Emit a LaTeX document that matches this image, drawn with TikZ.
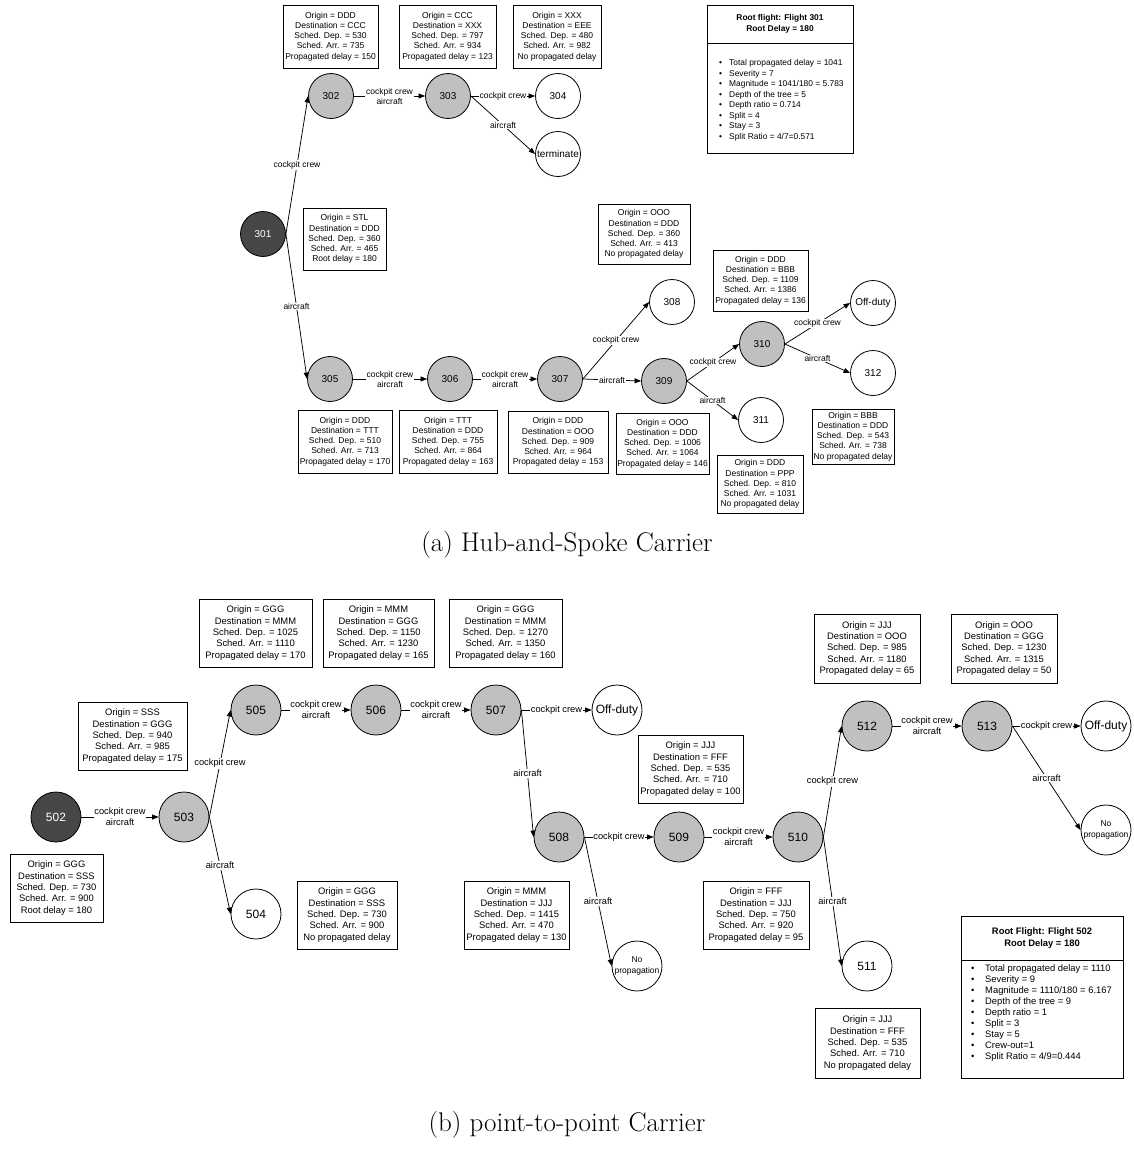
\documentclass[tikz,border=0pt]{standalone}
\usepackage{fontspec}
\newfontfamily\arial{Liberation Sans}
\usetikzlibrary{arrows.meta}
\definecolor{rootfill}{HTML}{474747}
\definecolor{delayfill}{HTML}{C0C0C0}
\newcommand{\bul}[1]{\makebox[#1][l]{\textbullet}}
\begin{document}
\begin{tikzpicture}[x=1pt,y=-1pt,
  flt/.style={circle,draw,line width=0.8pt,inner sep=0pt},
  fltA/.style={flt,minimum size=45pt,font=\arial\fontsize{10pt}{12pt}\selectfont},
  fltB/.style={flt,minimum size=50pt,font=\arial\fontsize{12pt}{14pt}\selectfont},
  rootfl/.style={fill=rootfill,text=white},
  delayfl/.style={fill=delayfill},
  endfl/.style={fill=white},
  info/.style={draw,line width=0.8pt,fill=white,align=center,inner sep=0pt},
  infoA/.style={info,font=\arial\fontsize{8.5pt}{10.2pt}\selectfont},
  infoB/.style={info,font=\arial\fontsize{9.4pt}{11.4pt}\selectfont},
  sumtext/.style={anchor=west,align=left,inner sep=0pt},
  link/.style={line width=0.75pt,-{Triangle[length=6.5pt,width=5pt]}},
  lbl/.style={fill=white,inner sep=0.8pt,align=center},
  lblA/.style={lbl,font=\arial\fontsize{8.5pt}{10pt}\selectfont},
  lblB/.style={lbl,font=\arial\fontsize{9.3pt}{10.8pt}\selectfont},
  nopr/.style={fltB,endfl,align=center,font=\arial\fontsize{8.5pt}{10.5pt}\selectfont},
  capt/.style={font=\fontsize{27pt}{32pt}\selectfont}
]
\useasboundingbox (0,0) rectangle (1133,1151);

% ---------------- (a) hub-and-spoke tree ----------------
\node[fltA,rootfl]  (n301) at (263,234) {301};
\node[fltA,delayfl] (n302) at (331,96)  {302};
\node[fltA,delayfl] (n303) at (448,96)  {303};
\node[fltA,endfl]   (n304) at (558,96)  {304};
\node[fltA,endfl]   (nterm) at (558,154) {terminate};
\node[fltA,delayfl] (n305) at (330,379) {305};
\node[fltA,delayfl] (n306) at (450,379) {306};
\node[fltA,delayfl] (n307) at (560,379) {307};
\node[fltA,endfl]   (n308) at (672,302) {308};
\node[fltA,delayfl] (n309) at (664,381) {309};
\node[fltA,delayfl] (n310) at (762,344) {310};
\node[fltA,endfl]   (n311) at (761,420) {311};
\node[fltA,endfl]   (offA) at (873,303) {Off-duty};
\node[fltA,endfl]   (n312) at (873,373) {312};

\node[infoA,minimum width=95pt,minimum height=63pt] (i302) at (330.5,36.5)
  {Origin = DDD\\Destination = CCC\\Sched. Dep. = 530\\Sched. Arr. = 735\\Propagated delay = 150};
\node[infoA,minimum width=97pt,minimum height=63pt] (i303) at (447.5,36.5)
  {Origin = CCC\\Destination = XXX\\Sched. Dep. = 797\\Sched. Arr. = 934\\Propagated delay = 123};
\node[infoA,minimum width=88pt,minimum height=63pt] (i304) at (557,36.5)
  {Origin = XXX\\Destination = EEE\\Sched. Dep. = 480\\Sched. Arr. = 982\\No propagated delay};
\node[infoA,minimum width=83pt,minimum height=62pt] (i301) at (344.5,239)
  {Origin = STL\\Destination = DDD\\Sched. Dep. = 360\\Sched. Arr. = 465\\Root delay = 180};
\node[infoA,minimum width=94pt,minimum height=63pt] (i305) at (345,441.5)
  {Origin = DDD\\Destination = TTT\\Sched. Dep. = 510\\Sched. Arr. = 713\\Propagated delay = 170};
\node[infoA,minimum width=98pt,minimum height=63pt] (i306) at (448,441.5)
  {Origin = TTT\\Destination = DDD\\Sched. Dep. = 755\\Sched. Arr. = 864\\Propagated delay = 163};
\node[infoA,minimum width=100pt,minimum height=62pt] (i307) at (558,442)
  {Origin = DDD\\Destination = OOO\\Sched. Dep. = 909\\Sched. Arr. = 964\\Propagated delay = 153};
\node[infoA,minimum width=92pt,minimum height=60pt] (i308) at (644,234)
  {Origin = OOO\\Destination = DDD\\Sched. Dep. = 360\\Sched. Arr. = 413\\No propagated delay};
\node[infoA,minimum width=95pt,minimum height=61pt] (i310) at (760.5,280.5)
  {Origin = DDD\\Destination = BBB\\Sched. Dep. = 1109\\Sched. Arr. = 1386\\Propagated delay = 136};
\node[infoA,minimum width=93pt,minimum height=61pt] (i309) at (662.5,443.5)
  {Origin = OOO\\Destination = DDD\\Sched. Dep. = 1006\\Sched. Arr. = 1064\\Propagated delay = 146};
\node[infoA,minimum width=86pt,minimum height=58pt] (i311) at (760,484)
  {Origin = DDD\\Destination = PPP\\Sched. Dep. = 810\\Sched. Arr. = 1031\\No propagated delay};
\node[infoA,minimum width=82pt,minimum height=55pt] (i312) at (853,436.5)
  {Origin = BBB\\Destination = DDD\\Sched. Dep. = 543\\Sched. Arr. = 738\\No propagated delay};

% summary of tree 301
\node[info,minimum width=146pt,minimum height=38pt,font=\arial\bfseries\fontsize{8.4pt}{10.5pt}\selectfont]
  (sumAhead) at (780,24) {Root flight: Flight 301\\Root Delay = 180};
\node[info,anchor=north,minimum width=146pt,minimum height=110pt] (sumAbody) at (sumAhead.south) {};
\node[sumtext,font=\arial\fontsize{8.4pt}{10.5pt}\selectfont] (sumAlist) at (719,100.5) {%
  \bul{10pt}Total propagated delay = 1041\\
  \bul{10pt}Severity = 7\\
  \bul{10pt}Magnitude = 1041/180 = 5.783\\
  \bul{10pt}Depth of the tree = 5\\
  \bul{10pt}Depth ratio = 0.714\\
  \bul{10pt}Split = 4\\
  \bul{10pt}Stay = 3\\
  \bul{10pt}Split Ratio = 4/7=0.571};

\draw[link] (n301.east) -- node[lblA] {cockpit crew} (n302.west);
\draw[link] (n301.east) -- node[lblA] {aircraft} (n305.west);
\draw[link] (n302.east) -- node[lblA] {cockpit crew\\aircraft} (n303.west);
\draw[link] (n303.east) -- node[lblA] {cockpit crew} (n304.west);
\draw[link] (n303.east) -- node[lblA] {aircraft} (nterm.west);
\draw[link] (n305.east) -- node[lblA] {cockpit crew\\aircraft} (n306.west);
\draw[link] (n306.east) -- node[lblA] {cockpit crew\\aircraft} (n307.west);
\draw[link] (n307.east) -- node[lblA] {cockpit crew} (n308.west);
\draw[link] (n307.east) -- node[lblA] {aircraft} (n309.west);
\draw[link] (n309.east) -- node[lblA] {cockpit crew} (n310.west);
\draw[link] (n309.east) -- node[lblA] {aircraft} (n311.west);
\draw[link] (n310.east) -- node[lblA] {cockpit crew} (offA.west);
\draw[link] (n310.east) -- node[lblA] {aircraft} (n312.west);

\node[capt] (captA) at (567,545) {(a) Hub-and-Spoke Carrier};

% ---------------- (b) point-to-point tree ----------------
\node[fltB,rootfl]  (n502) at (56,817)  {502};
\node[fltB,delayfl] (n503) at (184,817) {503};
\node[fltB,endfl]   (n504) at (256,914) {504};
\node[fltB,delayfl] (n505) at (256,710) {505};
\node[fltB,delayfl] (n506) at (376,710) {506};
\node[fltB,delayfl] (n507) at (496,710) {507};
\node[fltB,endfl]   (offB1) at (617,710) {Off-duty};
\node[fltB,delayfl] (n508) at (559,837) {508};
\node[fltB,delayfl] (n509) at (679,837) {509};
\node[fltB,delayfl] (n510) at (798,837) {510};
\node[nopr]         (nopB1) at (637,966) {No\\propagation};
\node[fltB,endfl]   (n511) at (867,966) {511};
\node[fltB,delayfl] (n512) at (867,726) {512};
\node[fltB,delayfl] (n513) at (987,726) {513};
\node[fltB,endfl]   (offB2) at (1106,726) {Off-duty};
\node[nopr]         (nopB2) at (1106,830) {No\\propagation};

\node[infoB,minimum width=113pt,minimum height=68pt] (i505) at (255.5,633)
  {Origin = GGG\\Destination = MMM\\Sched. Dep. = 1025\\Sched. Arr. = 1110\\Propagated delay = 170};
\node[infoB,minimum width=111pt,minimum height=68pt] (i506) at (378.5,633)
  {Origin = MMM\\Destination = GGG\\Sched. Dep. = 1150\\Sched. Arr. = 1230\\Propagated delay = 165};
\node[infoB,minimum width=113pt,minimum height=68pt] (i507) at (505.5,633)
  {Origin = GGG\\Destination = MMM\\Sched. Dep. = 1270\\Sched. Arr. = 1350\\Propagated delay = 160};
\node[infoB,minimum width=109pt,minimum height=68pt] (i503) at (132.5,736)
  {Origin = SSS\\Destination = GGG\\Sched. Dep. = 940\\Sched. Arr. = 985\\Propagated delay = 175};
\node[infoB,minimum width=93pt,minimum height=68pt] (i502) at (56.5,888)
  {Origin = GGG\\Destination = SSS\\Sched. Dep. = 730\\Sched. Arr. = 900\\Root delay = 180};
\node[infoB,minimum width=100pt,minimum height=68pt] (i504) at (347,915)
  {Origin = GGG\\Destination = SSS\\Sched. Dep. = 730\\Sched. Arr. = 900\\No propagated delay};
\node[infoB,minimum width=105pt,minimum height=68pt] (i508) at (516.5,915)
  {Origin = MMM\\Destination = JJJ\\Sched. Dep. = 1415\\Sched. Arr. = 470\\Propagated delay = 130};
\node[infoB,minimum width=105pt,minimum height=68pt] (i509) at (690.5,769)
  {Origin = JJJ\\Destination = FFF\\Sched. Dep. = 535\\Sched. Arr. = 710\\Propagated delay = 100};
\node[infoB,minimum width=106pt,minimum height=68pt] (i510) at (756,915)
  {Origin = FFF\\Destination = JJJ\\Sched. Dep. = 750\\Sched. Arr. = 920\\Propagated delay = 95};
\node[infoB,minimum width=106pt,minimum height=69pt] (i512) at (867,648.5)
  {Origin = JJJ\\Destination = OOO\\Sched. Dep. = 985\\Sched. Arr. = 1180\\Propagated delay = 65};
\node[infoB,minimum width=106pt,minimum height=69pt] (i513) at (1004,648.5)
  {Origin = OOO\\Destination = GGG\\Sched. Dep. = 1230\\Sched. Arr. = 1315\\Propagated delay = 50};
\node[infoB,minimum width=105pt,minimum height=70pt] (i511) at (867.5,1043)
  {Origin = JJJ\\Destination = FFF\\Sched. Dep. = 535\\Sched. Arr. = 710\\No propagated delay};

% summary of tree 502
\node[info,minimum width=162pt,minimum height=44pt,font=\arial\bfseries\fontsize{9.4pt}{11.5pt}\selectfont]
  (sumBhead) at (1042,938) {Root Flight: Flight 502\\Root Delay = 180};
\node[info,anchor=north,minimum width=162pt,minimum height=118pt] (sumBbody) at (sumBhead.south) {};
\node[sumtext,font=\arial\fontsize{9.4pt}{11.1pt}\selectfont] (sumBlist) at (971,1013) {%
  \bul{14pt}Total propagated delay = 1110\\
  \bul{14pt}Severity = 9\\
  \bul{14pt}Magnitude = 1110/180 = 6.167\\
  \bul{14pt}Depth of the tree = 9\\
  \bul{14pt}Depth ratio = 1\\
  \bul{14pt}Split = 3\\
  \bul{14pt}Stay = 5\\
  \bul{14pt}Crew-out=1\\
  \bul{14pt}Split Ratio = 4/9=0.444};

\draw[link] (n502.east) -- node[lblB] {cockpit crew\\aircraft} (n503.west);
\draw[link] (n503.east) -- node[lblB] {cockpit crew} (n505.west);
\draw[link] (n503.east) -- node[lblB] {aircraft} (n504.west);
\draw[link] (n505.east) -- node[lblB] {cockpit crew\\aircraft} (n506.west);
\draw[link] (n506.east) -- node[lblB] {cockpit crew\\aircraft} (n507.west);
\draw[link] (n507.east) -- node[lblB] {cockpit crew} (offB1.west);
\draw[link] (n507.east) -- node[lblB] {aircraft} (n508.west);
\draw[link] (n508.east) -- node[lblB] {cockpit crew} (n509.west);
\draw[link] (n508.east) -- node[lblB] {aircraft} (nopB1.west);
\draw[link] (n509.east) -- node[lblB] {cockpit crew\\aircraft} (n510.west);
\draw[link] (n510.east) -- node[lblB] {cockpit crew} (n512.west);
\draw[link] (n510.east) -- node[lblB] {aircraft} (n511.west);
\draw[link] (n512.east) -- node[lblB] {cockpit crew\\aircraft} (n513.west);
\draw[link] (n513.east) -- node[lblB] {cockpit crew} (offB2.west);
\draw[link] (n513.east) -- node[lblB] {aircraft} (nopB2.west);

\node[capt] (captB) at (567,1125) {(b) point-to-point Carrier};
\end{tikzpicture}
\end{document}
